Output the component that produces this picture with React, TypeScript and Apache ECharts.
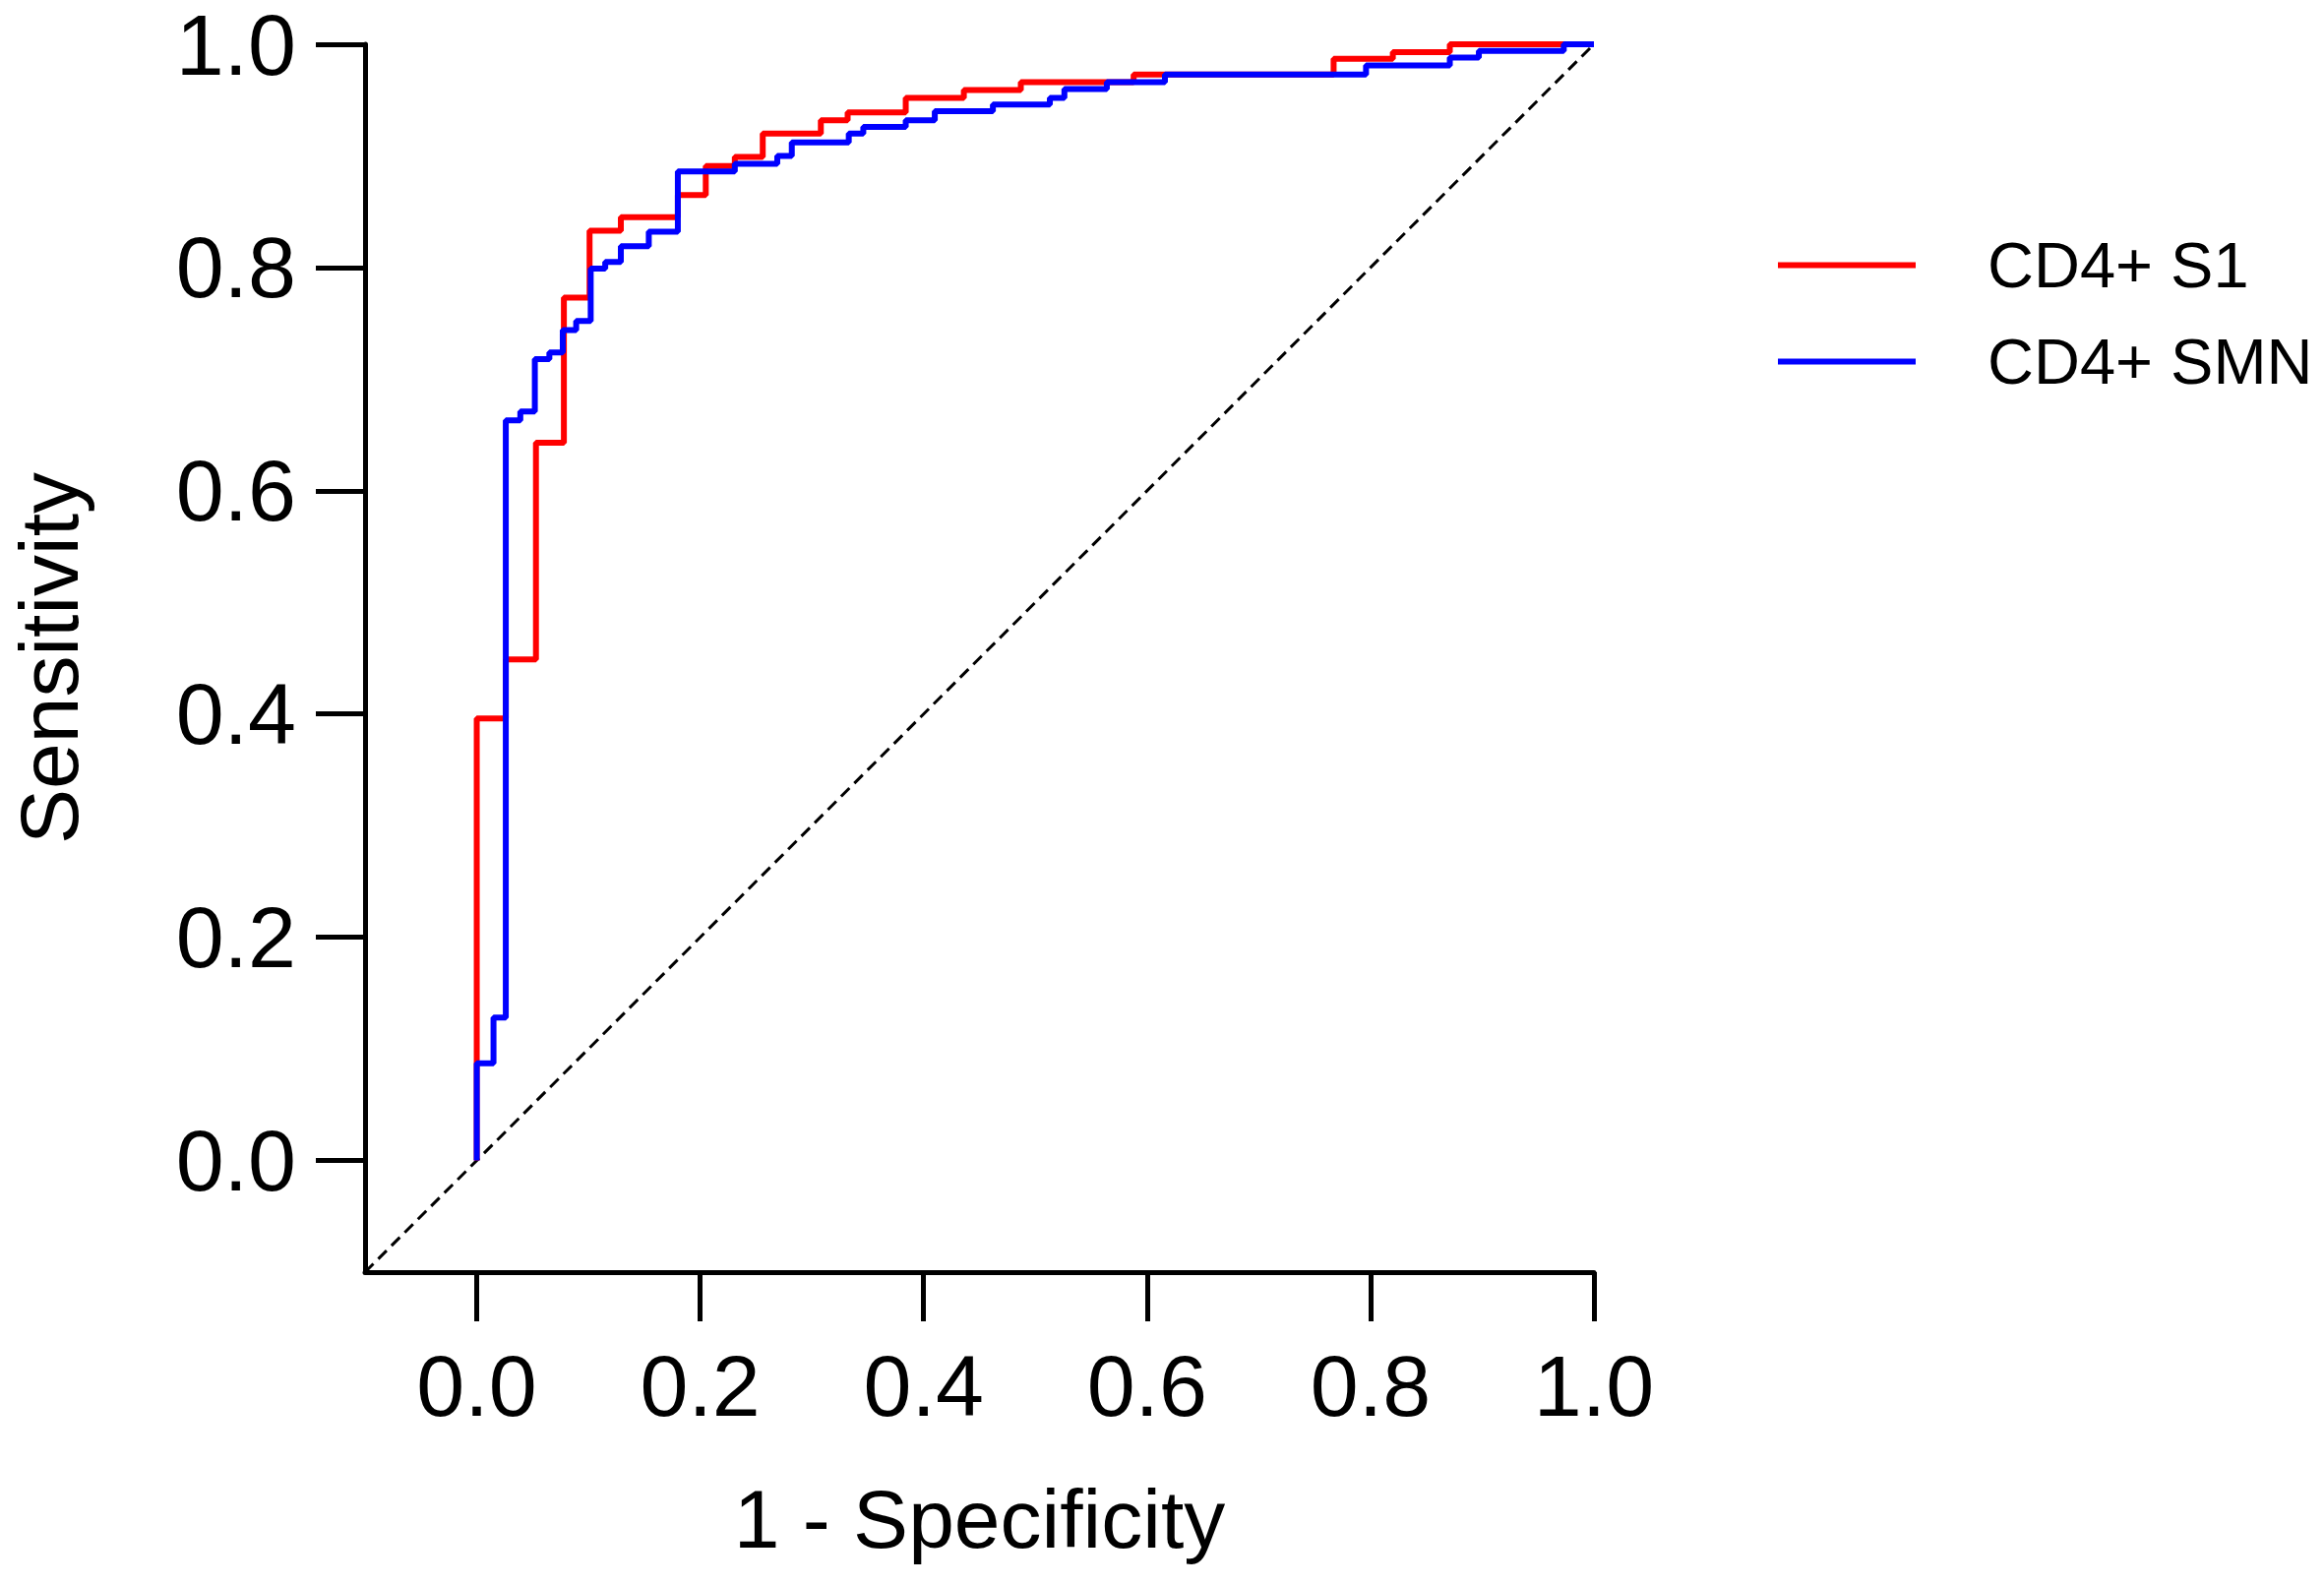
import React, { useEffect, useRef } from "react";
import * as echarts from "echarts";

const seriesNames = ["CD4+ S1", "CD4+ SMN"];
const tickValues = [0, 0.2, 0.4, 0.6, 0.8, 1.0];

// ROC points (1 - specificity, sensitivity); curve steps horizontally then rises at each point
const s1Fpr = [0, 0, 0.026, 0.053, 0.078, 0.101, 0.129, 0.180, 0.205, 0.231, 0.256, 0.308, 0.332, 0.384, 0.436, 0.487, 0.588, 0.767, 0.820, 0.871, 1.0];
const s1Tpr = [0, 0.396, 0.449, 0.643, 0.773, 0.833, 0.845, 0.865, 0.891, 0.899, 0.920, 0.932, 0.939, 0.952, 0.959, 0.966, 0.973, 0.987, 0.993, 1.0, 1.0];

const smnFpr = [0, 0, 0.015, 0.026, 0.039, 0.052, 0.065, 0.077, 0.089, 0.102, 0.115, 0.129, 0.154, 0.180, 0.231, 0.269, 0.282, 0.333, 0.346, 0.384, 0.410, 0.462, 0.513, 0.526, 0.564, 0.616, 0.796, 0.871, 0.897, 0.973, 1.0];
const smnTpr = [0, 0.087, 0.128, 0.663, 0.671, 0.718, 0.724, 0.744, 0.752, 0.799, 0.805, 0.819, 0.832, 0.886, 0.893, 0.900, 0.912, 0.920, 0.926, 0.932, 0.940, 0.946, 0.952, 0.960, 0.966, 0.973, 0.981, 0.988, 0.994, 1.0, 1.0];

const refLineX = [-0.1, 1.0];
const refLineY = [-0.1, 1.0];

const FONT = "'Liberation Sans', Arial, Helvetica, sans-serif";

function zip(a: number[], b: number[]) {
  return a.map((v, i) => [v, b[i]]);
}

export default function App() {
  const ref = useRef<HTMLDivElement>(null);
  useEffect(() => {
    if (!ref.current) return;
    const chart = echarts.init(ref.current, undefined, { renderer: "svg" });
    const axisCommon = {
      type: "value" as const,
      min: -0.1,
      max: 1.0,
      splitLine: { show: false },
      axisLine: { show: true, onZero: false, lineStyle: { color: "#000", width: 5 } },
      axisTick: { show: true, length: 50, customValues: tickValues, lineStyle: { color: "#000", width: 5 } },
      axisLabel: {
        customValues: tickValues,
        formatter: (v: number) => v.toFixed(1),
        color: "#000",
        fontFamily: FONT,
        fontSize: 88,
      },
      nameLocation: "middle" as const,
      nameTextStyle: { color: "#000", fontFamily: FONT, fontSize: 84 },
    };
    chart.setOption({
      animation: false,
      backgroundColor: "#fff",
      grid: { left: 367, top: 45, right: 742, bottom: 318, containLabel: false },
      xAxis: {
        ...axisCommon,
        name: "1 - Specificity",
        nameGap: 209,
        axisLabel: { ...axisCommon.axisLabel, margin: 71 },
      },
      yAxis: {
        ...axisCommon,
        name: "Sensitivity",
        nameGap: 279,
        nameRotate: 90,
        axisLabel: { ...axisCommon.axisLabel, margin: 70, lineHeight: 70 },
      },
      legend: {
        show: true,
        orient: "vertical",
        left: 1802,
        top: 232,
        icon: "rect",
        itemWidth: 140,
        itemHeight: 6,
        itemGap: 33,
        data: seriesNames,
        textStyle: { color: "#000", fontFamily: FONT, fontSize: 65, lineHeight: 65, padding: [0, 0, 0, 68] },
      },
      series: [
        {
          name: "ref",
          type: "line",
          data: zip(refLineX, refLineY),
          showSymbol: false,
          symbol: "none",
          silent: true,
          lineStyle: { color: "#000", width: 3, type: [12, 7] },
          z: 1,
        },
        {
          name: seriesNames[0],
          type: "line",
          step: "end",
          data: zip(s1Fpr, s1Tpr),
          symbol: "none",
          color: "#FF0000",
          itemStyle: { color: "#FF0000" },
          lineStyle: { color: "#FF0000", width: 6 },
          z: 2,
        },
        {
          name: seriesNames[1],
          type: "line",
          step: "end",
          data: zip(smnFpr, smnTpr),
          symbol: "none",
          color: "#0000FF",
          itemStyle: { color: "#0000FF" },
          lineStyle: { color: "#0000FF", width: 6 },
          z: 3,
        },
      ],
    });
    return () => chart.dispose();
  }, []);
  return (
    <div
      ref={ref}
      style={{ position: "absolute", left: 0, top: 0, width: 2362, height: 1611, background: "#fff" }}
    />
  );
}
